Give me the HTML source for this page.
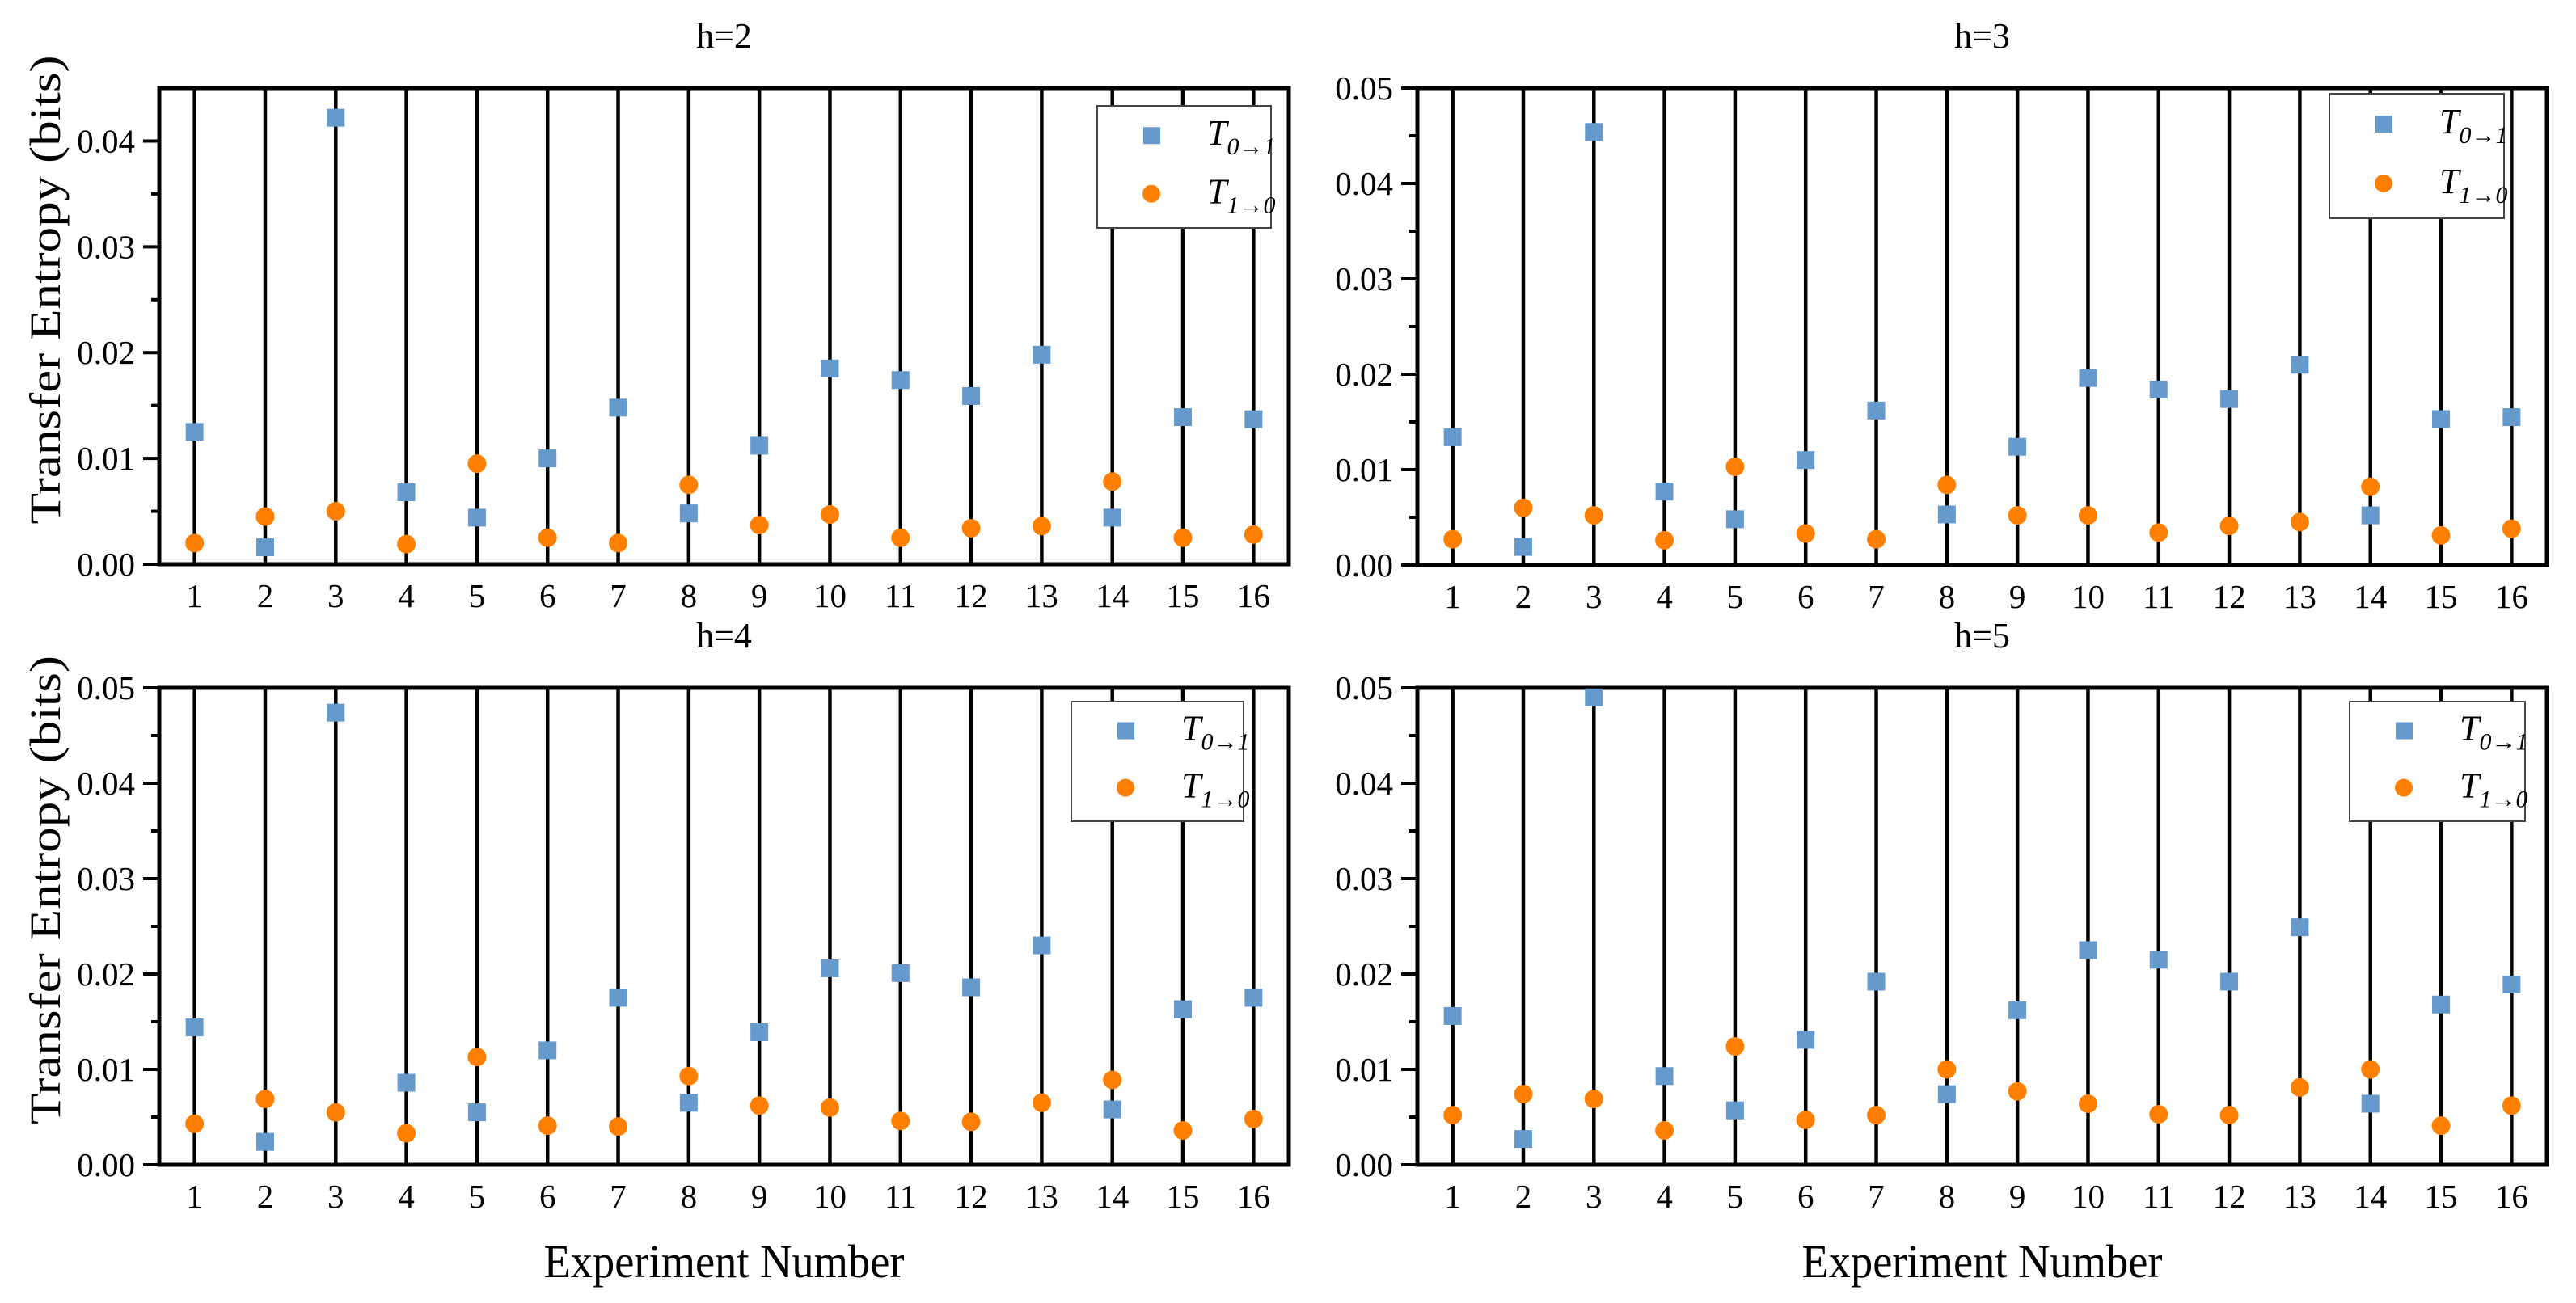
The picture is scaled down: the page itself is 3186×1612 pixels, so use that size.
<!DOCTYPE html>
<html><head><meta charset="utf-8"><style>
html,body{margin:0;padding:0;background:#fff;}
svg{display:block;font-family:"Liberation Serif",serif;}
</style></head>
<body>
<svg id="fig" width="3186" height="1612" viewBox="0 0 3186 1612" xmlns="http://www.w3.org/2000/svg"></svg>
<script>
const categories = [1,2,3,4,5,6,7,8,9,10,11,12,13,14,15,16];
const panelTitles = ["h=2","h=3","h=4","h=5"];
const h2Forward = [0.0125,0.0016,0.0422,0.0068,0.0044,0.0100,0.0148,0.0048,0.0112,0.0185,0.0174,0.0159,0.0198,0.0044,0.0139,0.0137];
const h2Backward = [0.0020,0.0045,0.0050,0.0019,0.0095,0.0025,0.0020,0.0075,0.0037,0.0047,0.0025,0.0034,0.0036,0.0078,0.0025,0.0028];
const h3Forward = [0.0134,0.0019,0.0454,0.0077,0.0048,0.0110,0.0162,0.0053,0.0124,0.0196,0.0184,0.0174,0.0210,0.0052,0.0153,0.0155];
const h3Backward = [0.0027,0.0060,0.0052,0.0026,0.0103,0.0033,0.0027,0.0084,0.0052,0.0052,0.0034,0.0041,0.0045,0.0082,0.0031,0.0038];
const h4Forward = [0.0144,0.0024,0.0474,0.0086,0.0055,0.0120,0.0175,0.0065,0.0139,0.0206,0.0201,0.0186,0.0230,0.0058,0.0163,0.0175];
const h4Backward = [0.0043,0.0069,0.0055,0.0033,0.0113,0.0041,0.0040,0.0093,0.0062,0.0060,0.0046,0.0045,0.0065,0.0089,0.0036,0.0048];
const h5Forward = [0.0156,0.0027,0.0490,0.0093,0.0057,0.0131,0.0192,0.0074,0.0162,0.0225,0.0215,0.0192,0.0249,0.0064,0.0168,0.0189];
const h5Backward = [0.0052,0.0074,0.0069,0.0036,0.0124,0.0047,0.0052,0.0100,0.0077,0.0064,0.0053,0.0052,0.0081,0.0100,0.0041,0.0062];
const yTicksA = ["0.00","0.01","0.02","0.03","0.04"];
const yTicksB = ["0.00","0.01","0.02","0.03","0.04","0.05"];
const yMaxA = 0.045, yMaxB = 0.05;

const NS="http://www.w3.org/2000/svg";
const svg=document.getElementById('fig');
function mk(tag,attrs,parent){const e=document.createElementNS(NS,tag);for(const k in attrs)e.setAttribute(k,attrs[k]);(parent||svg).appendChild(e);return e;}

const panels=[
 {x0:197,x1:1594,y0:109,y1:698,ymax:yMaxA,ticks:yTicksA,fw:h2Forward,bw:h2Backward,title:panelTitles[0],leg:[1357,131,215,151],ytitle:true,xtitle:false},
 {x0:1753,x1:3150,y0:109,y1:699,ymax:yMaxB,ticks:yTicksB,fw:h3Forward,bw:h3Backward,title:panelTitles[1],leg:[2881,116,216,154],ytitle:false,xtitle:false},
 {x0:197,x1:1594,y0:851,y1:1441,ymax:yMaxB,ticks:yTicksB,fw:h4Forward,bw:h4Backward,title:panelTitles[2],leg:[1325,868,213,148],ytitle:true,xtitle:true},
 {x0:1753,x1:3150,y0:851,y1:1441,ymax:yMaxB,ticks:yTicksB,fw:h5Forward,bw:h5Backward,title:panelTitles[3],leg:[2906,868,217,148],ytitle:false,xtitle:true}
];

panels.forEach((p,pi)=>{
  const g=mk('g',{});
  
  
  const xs=v=>p.x0+(v-0.5)*(p.x1-p.x0)/16;
  const ys=v=>p.y1-v*(p.y1-p.y0)/p.ymax;
  const t=mk('text',{x:(p.x0+p.x1)/2,y:p.y0-50,'text-anchor':'middle','font-size':44},g);
  t.textContent=p.title;
  
  
  categories.forEach(c=>{
    const l=mk('line',{x1:xs(c),x2:xs(c),y1:p.y0,y2:p.y1,stroke:'#000','stroke-width':4.5},g);
    
    
  });
  p.ticks.forEach((lab)=>{
    const v=parseFloat(lab);
    const y=ys(v);
    const tk=mk('line',{x1:p.x0-20,x2:p.x0,y1:y,y2:y,stroke:'#000','stroke-width':4},g);
    
    
    const tl=mk('text',{x:p.x0-30,y:y+14,'text-anchor':'end','font-size':41},g);
    tl.textContent=lab;
    
    
    const mv=v+0.005;
    if(mv<p.ymax-1e-9){
      const mt=mk('line',{x1:p.x0-10,x2:p.x0,y1:ys(mv),y2:ys(mv),stroke:'#000','stroke-width':4},g);
      
      
    }
  });
  categories.forEach(c=>{
    const xl=mk('text',{x:xs(c),y:p.y1+53,'text-anchor':'middle','font-size':41},g);
    xl.textContent=c;
    
    
  });
  const fr=mk('rect',{x:p.x0,y:p.y0,width:p.x1-p.x0,height:p.y1-p.y0,fill:'none',stroke:'#000','stroke-width':5},g);
  
  
  categories.forEach((c,i)=>{
    const ci=mk('circle',{cx:xs(c),cy:ys(p.bw[i]),r:11.5,fill:'#ff7f00'},g);
    
    
    const sq=mk('rect',{x:xs(c)-11,y:ys(p.fw[i])-11,width:22,height:22,fill:'#6699cc'},g);
    
    
  });
  const [lx,ly,lw,lh]=p.leg;
  const lg=mk('g',{},g);
  
  
  mk('rect',{x:lx,y:ly,width:lw,height:lh,fill:'#fff',stroke:'#444','stroke-width':2},lg);
  const r1=ly+lh*0.24, r2=ly+lh*0.72;
  const ls=mk('rect',{x:lx+57,y:r1-10,width:21,height:21,fill:'#6699cc'},lg);
  
  
  const lc=mk('circle',{cx:lx+67,cy:r2,r:11,fill:'#ff7f00'},lg);
  
  
  [[r1,'0→1','legend-entry-forward'],[r2,'1→0','legend-entry-backward']].forEach(([ry,sub,nm])=>{
    const tx=mk('text',{x:lx+136,y:ry+12,'font-size':44,'font-style':'italic'},lg);
    
    
    const a=mk('tspan',{},tx);a.textContent='T';
    const b=mk('tspan',{dy:12,'font-size':30},tx);b.textContent=sub;
  });
  if(p.ytitle){
    const cy=(p.y0+p.y1)/2-45;
    const yt=mk('text',{x:0,y:0,'text-anchor':'middle','font-size':54,textLength:580,lengthAdjust:'spacingAndGlyphs',transform:`translate(74,${cy}) rotate(-90)`},g);
    yt.textContent='Transfer Entropy (bits)';
    
    
  }
  if(p.xtitle){
    const xt=mk('text',{x:(p.x0+p.x1)/2,y:1580,'text-anchor':'middle','font-size':58,textLength:446,lengthAdjust:'spacingAndGlyphs'},g);
    xt.textContent='Experiment Number';
    
    
  }
});
</script>
</body></html>
